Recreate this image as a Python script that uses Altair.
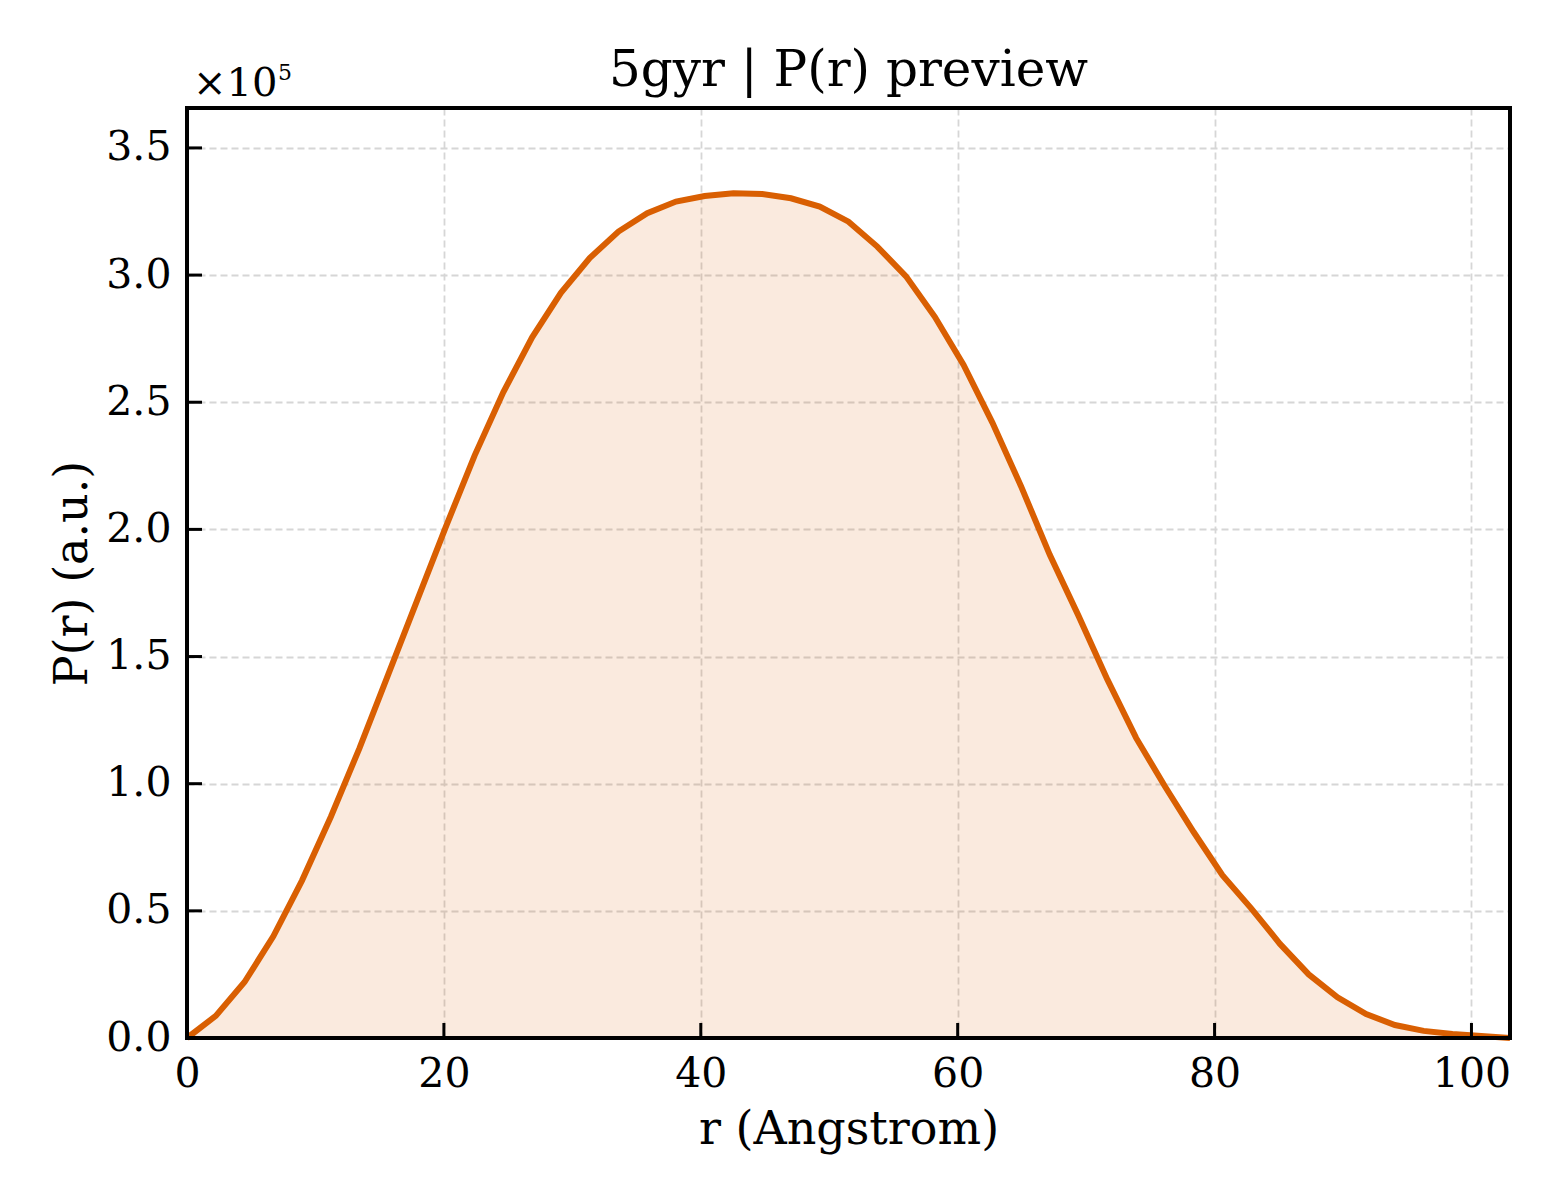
import altair as alt
import pandas as pd

r_values = [0.0, 2.24, 4.48, 6.72, 8.96, 11.2, 13.43, 15.67, 17.91, 20.15,
            22.39, 24.63, 26.87, 29.11, 31.35, 33.59, 35.83, 38.07, 40.3, 42.54,
            44.78, 47.02, 49.26, 51.5, 53.74, 55.98, 58.22, 60.46, 62.7, 64.93,
            67.17, 69.41, 71.65, 73.89, 76.13, 78.37, 80.61, 82.85, 85.09, 87.33,
            89.57, 91.8, 94.04, 96.28, 98.52, 100.76, 103.0]
p_values = [0.0, 0.087, 0.22, 0.40, 0.62, 0.87, 1.14, 1.43, 1.72, 2.01,
            2.29, 2.54, 2.755, 2.93, 3.067, 3.171, 3.243, 3.289, 3.311, 3.322,
            3.319, 3.302, 3.269, 3.21, 3.112, 2.995, 2.836, 2.647, 2.42, 2.17,
            1.90, 1.66, 1.41, 1.18, 0.99, 0.81, 0.64, 0.51, 0.37, 0.25,
            0.16, 0.094, 0.051, 0.028, 0.016, 0.008, 0.0]

x_ticks = [0, 20, 40, 60, 80, 100]
y_ticks = [0.0, 0.5, 1.0, 1.5, 2.0, 2.5, 3.0, 3.5]

W, H = 1323, 930
FONT = "DejaVu Serif"
ORANGE = "#d95f02"

df = pd.DataFrame({"r": r_values, "p": p_values})

xscale = alt.Scale(domain=[0, 103], nice=False, zero=False)
yscale = alt.Scale(domain=[0, 3.657], nice=False)

x_axis = alt.Axis(values=x_ticks, title="r (Angstrom)", format="d",
                  grid=True, gridColor="#d6d6d6", gridDash=[7, 4], gridWidth=1.8,
                  domain=False, ticks=False, labelFlush=False,
                  labelFont=FONT, labelFontSize=41, labelColor="black",
                  labelPadding=16,
                  titleFont=FONT, titleFontSize=46, titleFontWeight="normal",
                  titleColor="black", titleX=W / 2, titleY=105,
                  titleBaseline="alphabetic")
y_axis = alt.Axis(values=y_ticks, title="P(r) (a.u.)", format=".1f",
                  grid=True, gridColor="#d6d6d6", gridDash=[7, 4], gridWidth=1.8,
                  domain=False, ticks=False,
                  labelFont=FONT, labelFontSize=41, labelColor="black",
                  labelPadding=16,
                  titleFont=FONT, titleFontSize=46, titleFontWeight="normal",
                  titleColor="black", titleX=-101, titleY=H / 2,
                  titleAngle=270, titleBaseline="alphabetic")

base = alt.Chart(df)

area = base.mark_area(color=ORANGE, opacity=0.13).encode(
    x=alt.X("r:Q", scale=xscale, axis=x_axis),
    y=alt.Y("p:Q", scale=yscale, axis=y_axis),
)

line = base.mark_line(color=ORANGE, strokeWidth=6).encode(
    x=alt.X("r:Q", scale=xscale),
    y=alt.Y("p:Q", scale=yscale),
)

# inward ticks
xt = alt.Chart(pd.DataFrame({"t": x_ticks})).mark_rule(
    color="black", strokeWidth=3).encode(
    x=alt.X("t:Q", scale=xscale), y=alt.value(H), y2=alt.value(H - 15))
yt = alt.Chart(pd.DataFrame({"t": y_ticks})).mark_rule(
    color="black", strokeWidth=3).encode(
    y=alt.Y("t:Q", scale=yscale), x=alt.value(0), x2=alt.value(15))

# frame drawn on top of the grid and fill
frame = alt.Chart(pd.DataFrame({"f": [0]})).mark_rect(
    fill="transparent", stroke="black", strokeWidth=4).encode(
    x=alt.value(0), x2=alt.value(W), y=alt.value(0), y2=alt.value(H))

# title and offset text (x10^5)
title = alt.Chart(pd.DataFrame({"s": ["5gyr | P(r) preview"]})).mark_text(
    font=FONT, fontSize=50, align="center", baseline="alphabetic",
    color="black").encode(text="s:N", x=alt.value(W / 2), y=alt.value(-22))
off1 = alt.Chart(pd.DataFrame({"s": ["×10"]})).mark_text(
    font=FONT, fontSize=40, align="left", baseline="alphabetic",
    color="black").encode(text="s:N", x=alt.value(6), y=alt.value(-12))
off2 = alt.Chart(pd.DataFrame({"s": ["5"]})).mark_text(
    font=FONT, fontSize=22, align="left", baseline="alphabetic",
    color="black").encode(text="s:N", x=alt.value(91), y=alt.value(-28))

chart = alt.layer(area, line, xt, yt, frame, title, off1, off2).properties(
    width=W, height=H,
    background="white",
    autosize=alt.AutoSizeParams(type="none"),
    padding={"left": 179, "top": 100, "right": 40, "bottom": 150},
).configure_view(stroke="transparent")

chart.save("out.html", embed_options={"renderer": "svg", "actions": False})
